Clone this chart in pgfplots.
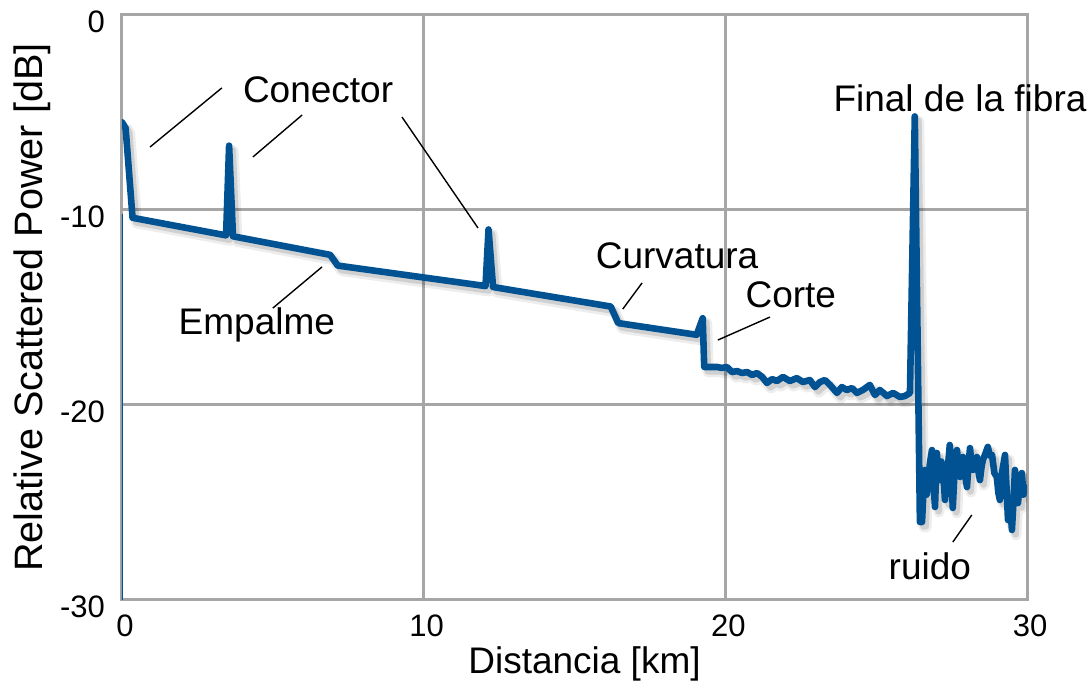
\documentclass[border=0pt]{standalone}
\usepackage{fontspec}
\setmainfont{Liberation Sans}
\usepackage{pgfplots}
\usepackage{pgfplotstable}
\pgfplotsset{compat=1.18}
\definecolor{otdr}{RGB}{0,82,147}
\definecolor{gridg}{RGB}{166,166,166}

\pgfplotstableread{
x y
0.00 -5.5
0.12 -5.8
0.35 -10.4
3.45 -11.3
3.55 -6.7
3.68 -11.35
6.90 -12.3
7.15 -12.85
12.05 -13.9
12.15 -11.0
12.30 -13.95
16.20 -14.95
16.45 -15.8
19.05 -16.4
19.25 -15.55
19.30 -18.05
19.49 -18.05
19.72 -18.05
19.89 -18.10
20.05 -18.05
20.22 -18.31
20.39 -18.26
20.55 -18.36
20.72 -18.31
20.89 -18.46
21.05 -18.36
21.22 -18.56
21.38 -18.87
21.55 -18.67
21.71 -18.77
21.91 -18.56
22.14 -18.77
22.37 -18.62
22.57 -18.82
22.80 -18.72
22.97 -19.08
23.14 -18.82
23.30 -18.72
23.47 -18.97
23.70 -19.38
23.86 -19.08
24.03 -19.23
24.20 -19.13
24.36 -19.38
24.56 -19.23
24.79 -18.97
24.96 -19.49
25.12 -19.23
25.36 -19.54
25.56 -19.38
25.79 -19.59
25.95 -19.54
26.12 -19.38
26.28 -5.2
26.45 -26.0
26.52 -26.0
26.58 -24.0
26.62 -23.33
26.67 -24.6
26.72 -24.21
26.78 -23.0
26.85 -22.31
26.90 -24.0
26.95 -25.23
27.01 -22.46
27.06 -23.4
27.11 -23.85
27.16 -22.9
27.21 -23.18
27.28 -24.87
27.36 -23.5
27.44 -22.05
27.49 -23.6
27.54 -25.28
27.61 -23.0
27.68 -22.31
27.73 -23.2
27.78 -23.69
27.83 -22.8
27.88 -22.67
27.94 -23.5
28.01 -24.21
28.06 -23.1
28.11 -22.21
28.16 -23.0
28.21 -23.33
28.27 -22.8
28.34 -22.67
28.39 -23.4
28.44 -23.85
28.49 -23.2
28.54 -22.8
28.62 -22.5
28.70 -22.15
28.77 -22.6
28.84 -22.56
28.92 -23.5
29.00 -23.69
29.05 -24.5
29.10 -24.87
29.18 -23.4
29.27 -22.56
29.32 -24.2
29.37 -25.9
29.43 -24.8
29.50 -26.41
29.55 -25.0
29.60 -23.33
29.65 -24.5
29.70 -25.03
29.76 -24.0
29.83 -23.49
29.88 -24.6
29.93 -24.21
30.00 -24.3
}\trace

\begin{document}
\begin{tikzpicture}
\begin{axis}[
  name=ax,
  scale only axis,
  width=452.5pt, height=292.5pt,
  xmin=0, xmax=30, ymin=-30, ymax=0,
  xtick={0,10,20,30}, ytick={-30,-20,-10,0},
  grid=major,
  major grid style={gridg, line width=1.5pt},
  axis line style={gridg, line width=1.5pt},
  major tick length=0pt,
  /pgf/number format/assume math mode=true,
  tick label style={font=\fontsize{15.5}{18}\selectfont},
  yticklabel style={xshift=-5pt, yshift=-3.5pt},
  xticklabel style={yshift=-4pt, xshift=1.5pt},
  xlabel={Distancia [km]},
  ylabel={Relative Scattered Power [dB]},
  xlabel style={font=\fontsize{18.5}{22}\selectfont, xshift=5pt, yshift=2pt},
  ylabel style={font=\fontsize{19.8}{23}\selectfont, yshift=-2pt},
  clip=true,
]
\addplot[black, opacity=0.07, line width=5.5pt, line join=round, shift={(2pt,-2.5pt)}] table {\trace};
\addplot[black, opacity=0.12, line width=3.3pt, line join=round, shift={(1.8pt,-2.2pt)}] table {\trace};
\addplot[otdr, line width=0.6pt] coordinates {(0,-30) (0,-10.2)};
\addplot[otdr, line width=3.3pt, line join=round, line cap=round] table {\trace};

\draw[black, line width=0.7pt] (axis cs:3.31,-3.74) -- (axis cs:0.93,-6.77);
\draw[black, line width=0.7pt] (axis cs:5.97,-5.13) -- (axis cs:4.34,-7.28);
\draw[black, line width=0.7pt] (axis cs:9.28,-5.23) -- (axis cs:11.8,-10.92);
\draw[black, line width=0.7pt] (axis cs:6.63,-12.92) -- (axis cs:5.0,-15.03);
\draw[black, line width=0.7pt] (axis cs:17.24,-13.74) -- (axis cs:16.6,-15.08);
\draw[black, line width=0.7pt] (axis cs:21.48,-15.49) -- (axis cs:19.75,-16.67);
\draw[black, line width=0.7pt] (axis cs:28.17,-25.64) -- (axis cs:27.54,-27.03);

\node[font=\fontsize{18.5}{22}\selectfont] at (axis cs:6.5,-3.85) {Conector};
\node[font=\fontsize{18.5}{22}\selectfont] at (axis cs:4.47,-15.9) {Empalme};
\node[font=\fontsize{18.5}{22}\selectfont] at (axis cs:18.4,-12.36) {Curvatura};
\node[font=\fontsize{18.5}{22}\selectfont] at (axis cs:22.17,-14.36) {Corte};
\node[font=\fontsize{18.5}{22}\selectfont] at (axis cs:26.78,-28.26) {ruido};
\end{axis}
\node[font=\fontsize{18.5}{22}\selectfont] at ([xshift=-33.5pt, yshift=-41.5pt]ax.north east) {Final de la fibra};
\pgfresetboundingbox
\path ([xshift=-61pt,yshift=-47.5pt]ax.south west) rectangle ([xshift=32pt,yshift=7.5pt]ax.north east);
\end{tikzpicture}
\end{document}
